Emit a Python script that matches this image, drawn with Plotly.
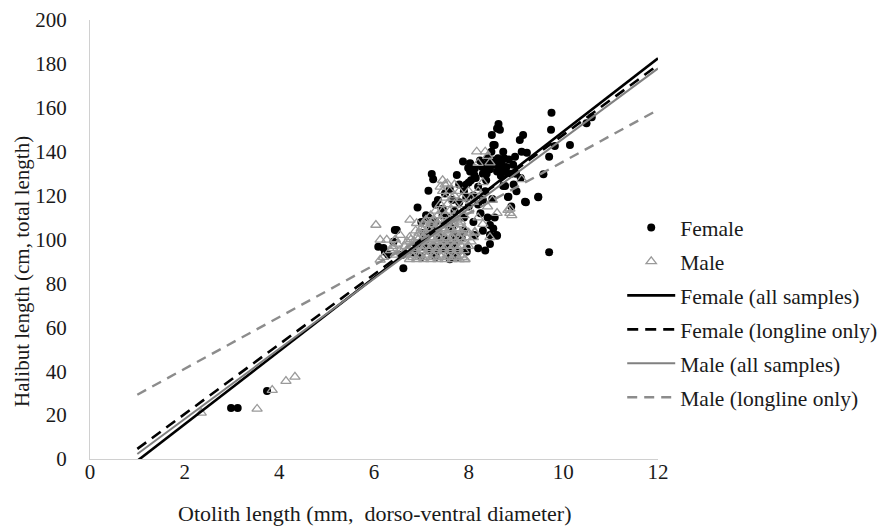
import plotly.graph_objects as go

# ---- Data ----
female_x = [2.98, 3.12, 3.74,
            6.09, 6.20, 6.23, 6.41, 6.44, 6.48, 6.62, 6.60, 6.30,
            6.92, 7.15, 7.22, 7.25, 7.00, 7.10, 7.05, 7.20, 7.30, 7.35,
            7.50, 7.60, 7.75, 7.88, 7.99, 8.03, 8.03, 7.70, 7.80, 7.90, 7.95, 7.60,
            7.75, 7.96, 7.96, 7.85, 7.90, 7.70, 7.50, 7.40, 7.30, 7.60, 7.55, 7.45,
            7.65, 7.80, 7.90, 8.00, 8.00,
            8.12, 8.13, 8.24, 8.37, 8.30, 8.20, 8.35, 8.45, 8.59, 8.45, 8.13, 8.30,
            8.40, 8.25, 8.10, 8.20, 8.50, 8.45, 8.50, 8.55, 8.60, 8.65, 8.70, 8.75,
            8.52, 8.49, 8.63, 8.66, 8.60, 8.55, 8.73, 8.80, 8.90, 8.94, 8.85, 8.40,
            8.48, 8.52, 8.60, 8.45, 8.35, 8.20, 8.55, 8.30, 8.10,
            8.73, 9.01, 8.83, 9.47, 9.21, 9.15, 9.08, 9.12, 9.23, 8.98, 9.70, 9.58,
            9.75, 9.74, 9.82, 10.14, 10.49, 10.60, 9.70, 8.77, 8.84, 9.19, 9.47,
            9.00, 9.10, 8.95, 8.90,
            6.85, 7.00, 7.15, 7.30, 7.45, 7.60, 7.75, 6.95, 7.10, 7.25, 7.40, 7.55,
            7.70, 7.05, 7.20, 7.35, 7.50, 7.65, 7.15, 7.30, 7.45, 7.60, 8.35, 8.42,
            8.48, 8.58, 8.62, 8.70, 8.38, 8.28, 8.15, 8.05, 7.95, 8.68, 8.78]
female_y = [23.2, 23.2, 31.0,
            96.7, 96.1, 94.4, 99.0, 104.3, 104.3, 86.9, 93.0, 93.0,
            114.6, 122.2, 129.8, 127.4, 108.0, 111.0, 97.0, 104.0, 116.0, 118.0,
            121.0, 123.0, 129.4, 135.5, 132.6, 131.0, 134.7, 113.0, 117.0, 110.0, 119.0, 106.0,
            94.4, 94.4, 96.0, 101.0, 104.0, 98.0, 100.0, 96.0, 93.0, 91.0, 110.0, 114.0,
            118.0, 125.0, 122.0, 126.0, 115.0,
            129.4, 132.4, 136.0, 127.0, 130.0, 124.0, 122.0, 106.6, 102.0, 102.0, 102.0, 104.0,
            110.0, 112.0, 108.0, 116.0, 118.5, 132.0, 134.0, 136.0, 131.0, 133.0, 135.0, 137.0,
            143.0, 147.6, 152.6, 150.0, 150.6, 143.0, 140.0, 133.0, 130.0, 134.0, 136.5, 137.0,
            140.0, 105.0, 101.7, 98.0, 95.0, 96.0, 110.0, 118.0, 120.0,
            124.4, 122.0, 119.4, 119.2, 117.0, 147.6, 145.3, 140.0, 139.5, 137.7, 137.7, 129.7,
            157.8, 150.0, 142.6, 143.0, 153.0, 155.7, 94.2, 124.4, 119.5, 117.2, 119.5,
            130.0, 128.0, 125.0, 115.0,
            94.0, 92.0, 95.0, 92.0, 96.0, 94.0, 92.0, 98.0, 100.0, 97.0, 101.0, 98.0,
            102.0, 103.0, 106.0, 104.0, 107.0, 105.0, 110.0, 108.0, 111.0, 109.0, 134.0, 132.0,
            136.0, 134.0, 137.0, 132.0, 130.0, 133.0, 128.0, 127.0, 125.0, 129.0, 131.0]

male_x = [2.35, 3.53, 3.85, 4.14, 4.33,
          6.75, 6.90, 7.05, 7.20, 7.35, 7.50, 7.65, 7.80, 7.92,
          6.60, 6.80, 6.95, 7.10, 7.25, 7.40, 7.55, 7.70, 7.85,
          6.55, 6.70, 6.85, 7.00, 7.15, 7.30, 7.45, 7.60, 7.75, 7.90,
          6.65, 6.80, 6.95, 7.10, 7.25, 7.40, 7.55, 7.70, 7.85, 8.00,
          6.70, 6.85, 7.00, 7.15, 7.30, 7.45, 7.60, 7.75, 7.90, 8.05,
          6.75, 6.90, 7.05, 7.20, 7.35, 7.50, 7.65, 7.80, 7.95, 8.10,
          6.95, 7.10, 7.25, 7.40, 7.55, 7.70, 7.85, 8.00, 8.13,
          7.00, 7.15, 7.30, 7.45, 7.60, 7.75, 7.90,
          7.05, 7.20, 7.35, 7.50, 7.65, 7.80,
          7.10, 7.25, 7.40, 7.60, 7.75,
          7.20, 7.35, 7.50, 7.70, 7.90,
          7.30, 7.45, 7.60, 7.80, 8.00,
          7.40, 7.55, 7.70, 7.90,
          7.50, 7.65, 7.85, 8.05,
          7.45, 7.60, 7.80, 8.00, 8.20,
          7.50, 7.70,
          6.82, 6.97, 7.12, 7.27, 7.42, 7.57, 7.72, 7.87,
          6.72, 6.88, 7.03, 7.18, 7.33, 7.48, 7.63, 7.78,
          6.78, 6.93, 7.08, 7.23, 7.38, 7.53, 7.68, 7.83,
          6.88, 7.03, 7.18, 7.33, 7.48, 7.63, 7.78, 7.93,
          7.08, 7.23, 7.38, 7.53, 7.68, 7.83,
          6.40, 6.50, 6.58, 6.45,
          6.04, 6.13, 6.27, 6.13, 6.35, 6.45, 6.76, 6.90, 7.92, 8.45, 8.13, 8.83,
          8.91, 8.87, 8.87, 8.17, 8.35, 8.20, 8.40, 9.12, 8.30, 8.25, 8.10, 8.40,
          8.50, 8.20, 8.30, 8.60, 7.40, 7.45, 7.55, 8.45, 7.70, 6.55, 6.40, 6.20]
male_y = [21.0, 22.8, 31.4, 35.5, 37.4,
          91, 91, 91, 91, 91, 91, 91, 91, 91,
          93, 93, 93, 93, 93, 93, 93, 93, 93,
          95, 95, 95, 95, 95, 95, 95, 95, 95, 95,
          97, 97, 97, 97, 97, 97, 97, 97, 97, 97,
          99, 99, 99, 99, 99, 99, 99, 99, 99, 99,
          101, 101, 101, 101, 101, 101, 101, 101, 101, 101,
          103, 103, 103, 103, 103, 103, 103, 103, 103,
          105, 105, 105, 105, 105, 105, 105,
          107, 107, 107, 107, 107, 107,
          109, 109, 109, 109, 109,
          111, 111, 111, 111, 111,
          113, 113, 113, 113, 113,
          116, 116, 116, 116,
          119, 119, 119, 119,
          122, 122, 122, 122, 122,
          125, 125,
          92, 92, 92, 92, 92, 92, 92, 92,
          96, 96, 96, 96, 96, 96, 96, 96,
          100, 100, 100, 100, 100, 100, 100, 100,
          104, 104, 104, 104, 104, 104, 104, 104,
          108, 108, 108, 108, 108, 108,
          96, 98, 94, 100,
          106.6, 99.8, 99.8, 90.7, 95.0, 93.0, 108.9, 107.4, 91.0, 101.0, 103.5, 113.4,
          111.0, 114.0, 112.0, 140.0, 140.0, 134.8, 138.0, 127.4, 126.0, 120.0, 117.0, 115.0,
          118.0, 110.0, 107.0, 112.0, 124.0, 127.0, 125.5, 135.0, 120.0, 102.0, 97.0, 92.0]

# Trend lines: (name, slope, intercept)
trend_names = ["Female (all samples)", "Female (longline only)",
               "Male (all samples)", "Male (longline only)"]
trend_slopes = [16.67, 15.90, 15.97, 11.80]
trend_intercepts = [-17.5, -11.3, -13.7, 17.5]
trend_x_range = [1, 12]

x_ticks = [0, 2, 4, 6, 8, 10, 12]
y_ticks = [0, 20, 40, 60, 80, 100, 120, 140, 160, 180, 200]

FONT = "Liberation Serif"
fig = go.Figure()

fig.add_trace(go.Scatter(
    x=female_x, y=female_y, mode="markers", name="Female", legendgroup="g1",
    marker=dict(symbol="circle", size=8, color="black", line=dict(width=0)),
))
fig.add_trace(go.Scatter(
    x=male_x, y=male_y, mode="markers", name="Male", legendgroup="g2",
    marker=dict(symbol="triangle-up-open", size=9, color="#9a9a9a",
                line=dict(width=1.3, color="#9a9a9a")),
))

styles = [
    dict(color="black", width=2.6, dash="solid"),
    dict(color="black", width=2.6, dash="11px,7px"),
    dict(color="#808080", width=2.0, dash="solid"),
    dict(color="#8c8c8c", width=2.4, dash="10px,7px"),
]
for i, (nm, m, b) in enumerate(zip(trend_names, trend_slopes, trend_intercepts)):
    xs = trend_x_range
    ys = [m * xv + b for xv in xs]
    fig.add_trace(go.Scatter(x=xs, y=ys, mode="lines", name=nm,
                             legendgroup="g%d" % (i + 3), line=styles[i]))

fig.update_layout(
    width=882, height=529,
    margin=dict(l=90, r=224, t=20, b=70, autoexpand=False),
    paper_bgcolor="white", plot_bgcolor="white",
    font=dict(family=FONT, size=21, color="#1a1a1a"),
    showlegend=True,
    legend=dict(x=0.937, y=0.574, xanchor="left", yanchor="top",
                font=dict(family=FONT, size=21.5, color="#1a1a1a"),
                tracegroupgap=3, itemwidth=48, bgcolor="rgba(0,0,0,0)"),
    xaxis=dict(range=[0, 12], tickvals=x_ticks, showgrid=False, zeroline=False,
               showline=True, linecolor="#d0d0d0", linewidth=1, ticks="",
               ticklabelstandoff=-6,
               tickfont=dict(family=FONT, size=21, color="#1a1a1a")),
    yaxis=dict(range=[0, 200], tickvals=y_ticks, showgrid=False, zeroline=False,
               showline=True, linecolor="#d0d0d0", linewidth=1, ticks="",
               ticklabelstandoff=18,
               tickfont=dict(family=FONT, size=21, color="#1a1a1a")),
    annotations=[
        dict(text="Otolith length (mm,  dorso-ventral diameter)", xref="paper", yref="paper",
             x=0.5, y=-0.125, xanchor="center", yanchor="middle", showarrow=False,
             font=dict(family=FONT, size=22, color="#1a1a1a")),
        dict(text="Halibut length (cm, total length)", xref="paper", yref="paper",
             x=-0.1197, y=0.426, xanchor="center", yanchor="middle", showarrow=False,
             textangle=-90, font=dict(family=FONT, size=21, color="#1a1a1a")),
    ],
)

fig.write_html("out.html")
